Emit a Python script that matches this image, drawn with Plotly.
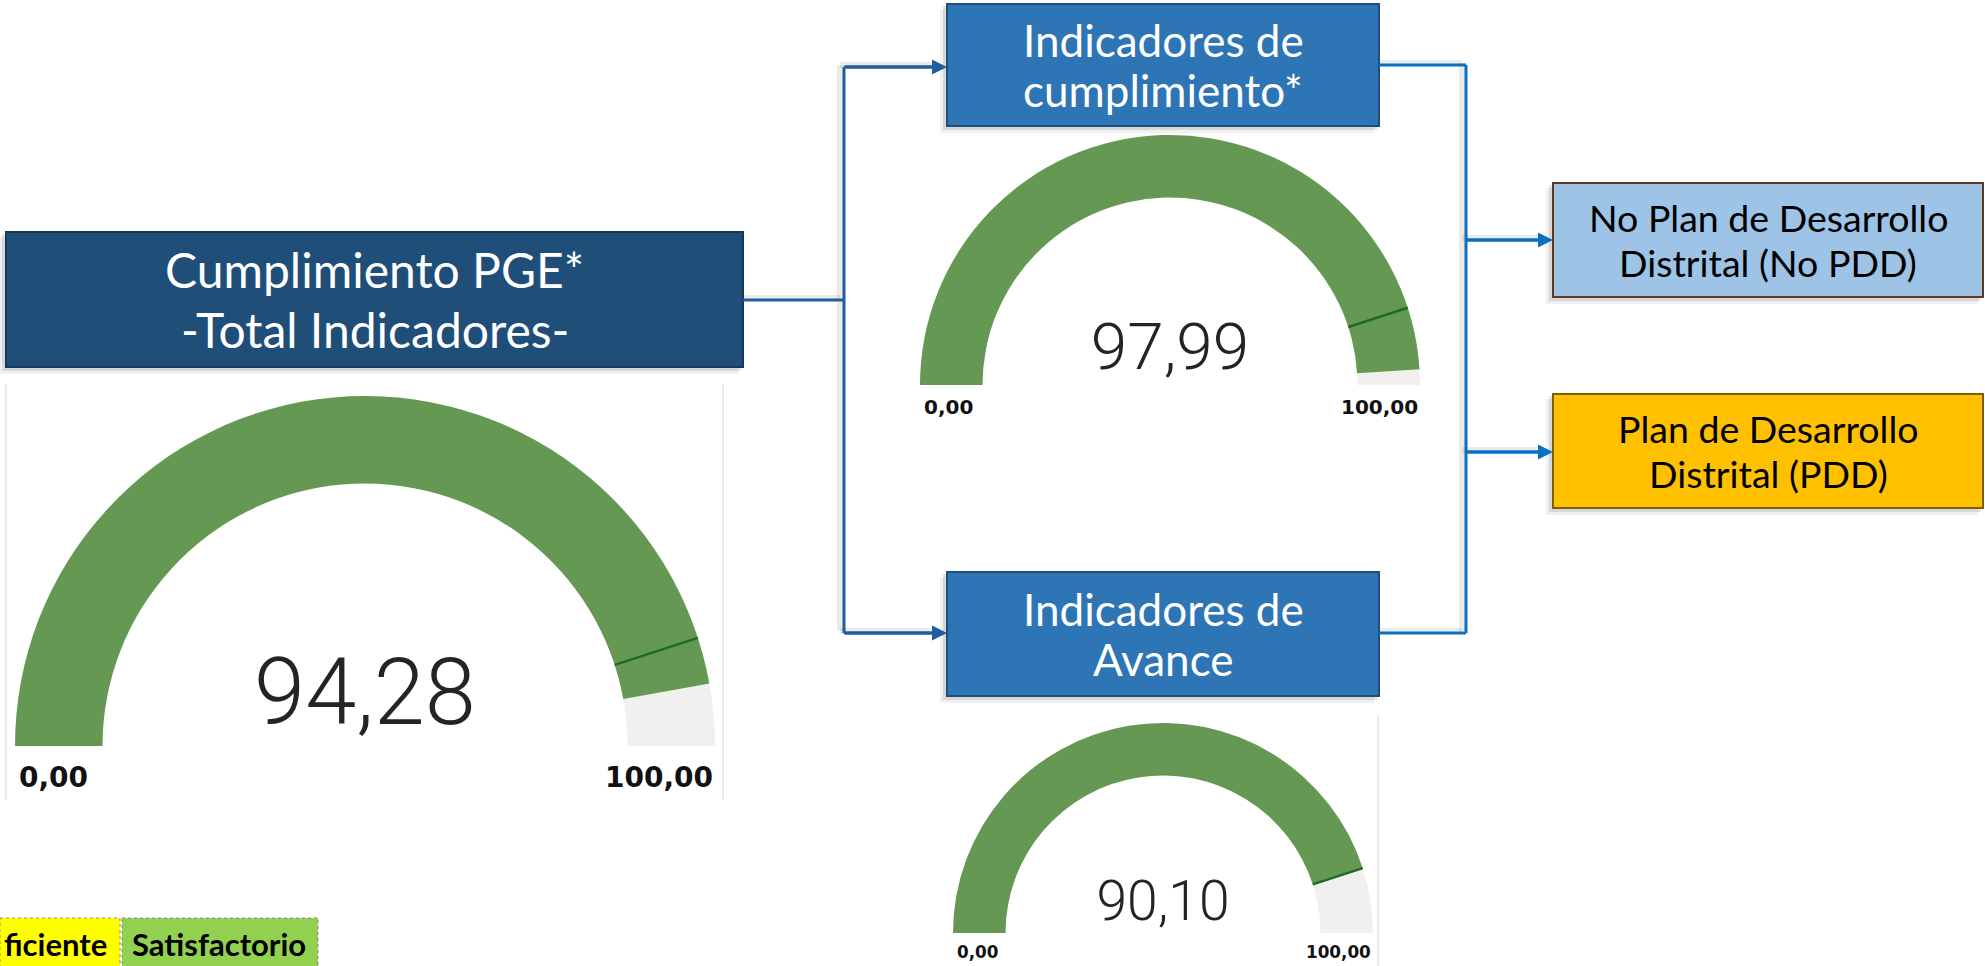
import plotly.graph_objects as go

W, H = 1985, 966

# ---------------- data ----------------
gauge_titles = [["Cumplimiento PGE*", "-Total Indicadores-"],
                ["Indicadores de", "cumplimiento*"],
                ["Indicadores de", "Avance"]]
gauge_values = [94.28, 97.99, 90.10]
gauge_targets = [90, 90, 90]
gauge_min = [0, 0, 0]
gauge_max = [100, 100, 100]

branch_labels = [["No Plan de Desarrollo", "Distrital (No PDD)"],
                 ["Plan de Desarrollo", "Distrital (PDD)"]]
legend_labels = ["ficiente", "Satisfactorio"]

# ---------------- styles / layout geometry (pixels) ----------------
GREEN = "#659953"
BG_GRAY = "#F1F0EE"
TARGET = "#1E6B22"
NUM_COLOR = "#252423"
DARK_BLUE = "#1F4E79"
MID_BLUE = "#2E75B6"
LINE_L = "#1F5DA0"
LINE_R = "#0A70C2"

gauge_geom = [(365, 746, 350), (1170, 385, 250), (1163, 933, 210)]  # cx, cy, R
# x0, y0, x1, y1, fill, border, font size, half line gap
title_boxes = [(6, 232, 743, 367, DARK_BLUE, "#17375E", 48, 30),
               (947, 4, 1379, 126, MID_BLUE, "#1F4E79", 44, 25),
               (947, 572, 1379, 696, MID_BLUE, "#1F4E79", 44, 25)]
branch_boxes = [(1553, 183, 1983, 297, "#9DC3E6", "#5C3B1C", 37.5, 22.5),
                (1553, 394, 1983, 508, "#FFC000", "#7F6000", 37.5, 22.5)]


def px(x):
    return x / W


def py(y):
    return 1 - y / H


def fmt(v):
    return f"{v:.2f}".replace(".", ",")


fig = go.Figure()
shapes = []
annotations = []

# gauges
for i in range(3):
    cx, cy, R = gauge_geom[i]
    fig.add_trace(go.Indicator(
        mode="gauge+number",
        value=gauge_values[i],
        domain=dict(x=[px(cx - R), px(cx + R)], y=[py(cy), py(cy - R)]),
        number=dict(valueformat=".2f",
                    font=dict(family="Roboto", size=92 * R / 350, color=NUM_COLOR, weight=300)),
        gauge=dict(
            shape="angular",
            axis=dict(range=[gauge_min[i], gauge_max[i]], visible=False),
            bar=dict(color=GREEN, thickness=1, line=dict(width=0)),
            bgcolor=BG_GRAY,
            borderwidth=0,
            threshold=dict(line=dict(color=TARGET, width=2.5), thickness=1,
                           value=gauge_targets[i]),
        ),
    ))
    s = R / 350
    lab_y = py(cy + 31 * s)
    for val, xa, xpos in [(gauge_min[i], "left", cx - R + 2), (gauge_max[i], "right", cx + R)]:
        annotations.append(dict(x=px(xpos), y=lab_y, xref="paper", yref="paper",
                                text=fmt(val), showarrow=False, xanchor=xa,
                                yanchor="middle",
                                font=dict(family="DejaVu Sans", size=28 * s, color="#111111",
                                          weight="bold")))

# panel borders of the gauge visuals
for (x, y0, y1) in [(6, 384, 800), (723, 384, 800), (1378, 715, 966)]:
    shapes.append(dict(type="line", xref="paper", yref="paper", x0=px(x), x1=px(x),
                       y0=py(y0), y1=py(y1), line=dict(color="#E4E4E4", width=1.5)))


def add_box(x0, y0, x1, y1, fill, border, lines, size, gap, color):
    for k, a in [(7, 0.06), (4, 0.10)]:
        shapes.append(dict(type="rect", xref="paper", yref="paper",
                           x0=px(x0 - k), x1=px(x1 - k + 2), y0=py(y0 + k - 2), y1=py(y1 + k),
                           fillcolor=f"rgba(0,0,0,{a})", line=dict(width=0), layer="below"))
    shapes.append(dict(type="rect", xref="paper", yref="paper",
                       x0=px(x0), x1=px(x1), y0=py(y0), y1=py(y1),
                       fillcolor=fill, line=dict(color=border, width=2)))
    yc = (y0 + y1) / 2
    for line_text, dy in zip(lines, [-gap, gap]):
        annotations.append(dict(x=px((x0 + x1) / 2), y=py(yc + dy), xref="paper",
                                yref="paper", text=line_text, showarrow=False,
                                xanchor="center", yanchor="middle", align="center",
                                font=dict(family="Lato", size=size, color=color)))


for (x0, y0, x1, y1, fill, border, size, gap), t in zip(title_boxes, gauge_titles):
    add_box(x0, y0, x1, y1, fill, border, t, size, gap, "white")
for (x0, y0, x1, y1, fill, border, size, gap), t in zip(branch_boxes, branch_labels):
    add_box(x0, y0, x1, y1, fill, border, t, size, gap, "black")


def seg(x0, y0, x1, y1, color):
    shapes.append(dict(type="line", xref="paper", yref="paper", x0=px(x0 - 4), x1=px(x1 - 4),
                       y0=py(y0 - 2), y1=py(y1 - 2),
                       line=dict(color="rgba(0,0,0,0.08)", width=6), layer="below"))
    shapes.append(dict(type="line", xref="paper", yref="paper", x0=px(x0), x1=px(x1),
                       y0=py(y0), y1=py(y1), line=dict(color=color, width=3)))


def arrow(xs, xt, y, color):
    seg(xs, y, xt - 12, y, color)
    annotations.append(dict(x=px(xt), y=py(y), xref="paper", yref="paper", ax=-(xt - xs), ay=0,
                            axref="pixel", ayref="pixel", text="", showarrow=True,
                            arrowhead=2, arrowsize=1, arrowwidth=3, arrowcolor=color,
                            standoff=0))


# left connectors
seg(743, 300, 844, 300, LINE_L)
seg(844, 67, 844, 633, LINE_L)
arrow(844, 947, 67, LINE_L)
arrow(844, 947, 633, LINE_L)
# right connectors
seg(1379, 65, 1466, 65, LINE_R)
seg(1379, 633, 1466, 633, LINE_R)
seg(1466, 65, 1466, 633, LINE_R)
arrow(1466, 1553, 240, LINE_R)
arrow(1466, 1553, 452, LINE_R)

# legend cells (bottom-left)
legend_cells = [(0, 918, 120, 970, "#FFFF00"), (122, 918, 318, 970, "#92D050")]
for (x0, y0, x1, y1, fill), t in zip(legend_cells, legend_labels):
    shapes.append(dict(type="rect", xref="paper", yref="paper", x0=px(x0), x1=px(x1),
                       y0=py(y0), y1=py(y1), fillcolor=fill,
                       line=dict(color="#8A8A8A", width=1, dash="dot")))
annotations.append(dict(x=px(109), y=py(944), xref="paper", yref="paper", text=legend_labels[0],
                        showarrow=False, xanchor="right", yanchor="middle",
                        font=dict(family="Lato", size=31, color="black", weight="bold")))
annotations.append(dict(x=px(219), y=py(944), xref="paper", yref="paper", text=legend_labels[1],
                        showarrow=False, xanchor="center", yanchor="middle",
                        font=dict(family="Lato", size=31, color="black", weight="bold")))

fig.update_layout(
    width=W, height=H, margin=dict(l=0, r=0, t=0, b=0),
    paper_bgcolor="white", plot_bgcolor="white",
    separators=",.",
    shapes=shapes, annotations=annotations,
    showlegend=False,
)
fig.write_html("out.html", config={"displayModeBar": False},
               post_script="document.body.style.margin='0';document.body.style.overflow='hidden';")
